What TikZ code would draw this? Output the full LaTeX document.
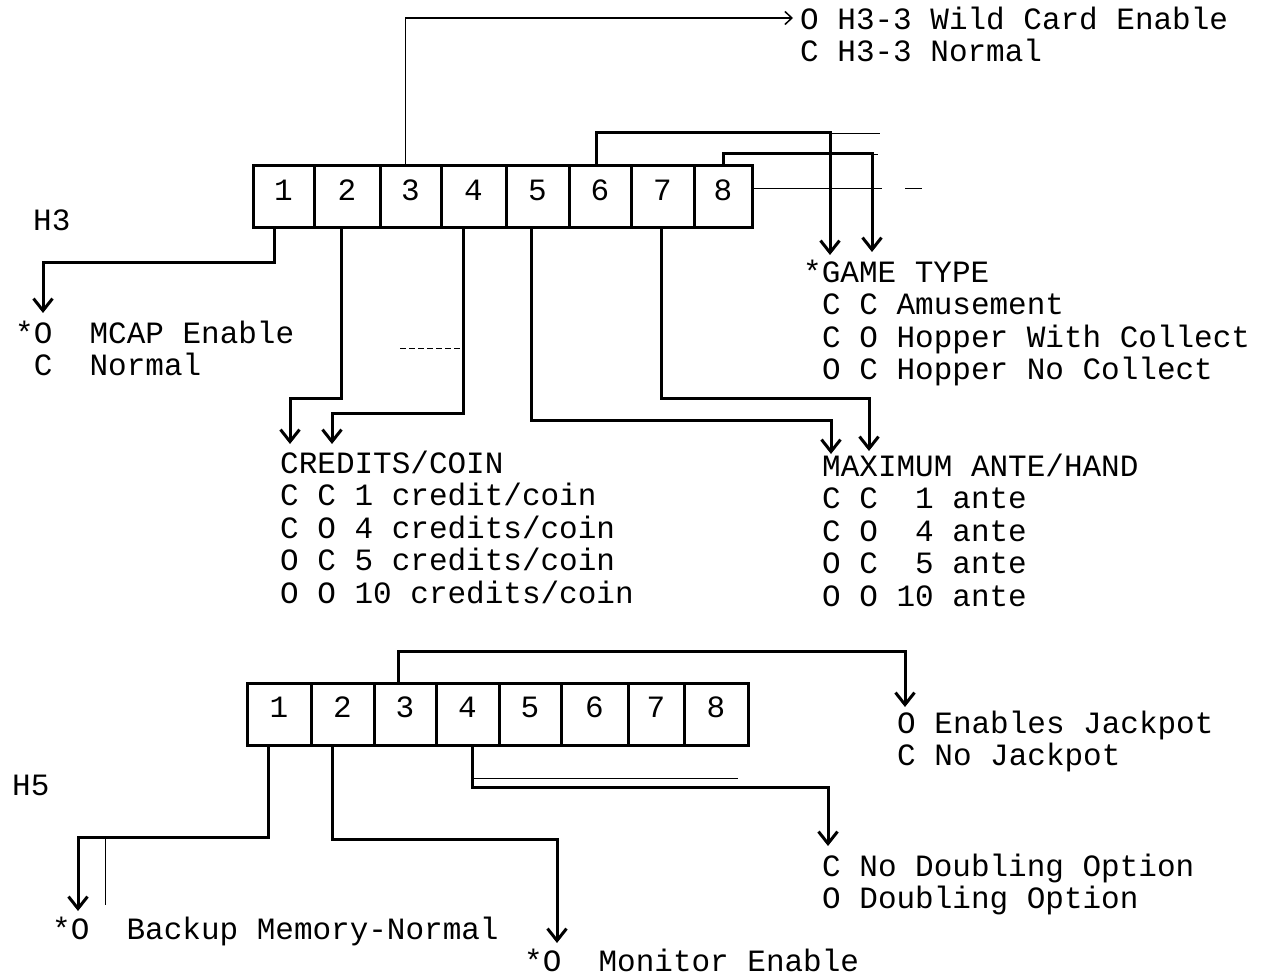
\documentclass[tikz,border=0pt]{standalone}
\usepackage{fontspec}
\setmainfont{Liberation Mono}
\usetikzlibrary{arrows.meta}
\begin{document}
\begin{tikzpicture}[x=1pt,y=-1pt,
  cell/.style={draw, line width=3pt, minimum height=62pt, inner sep=0pt, text depth=14pt, font=\fontsize{31}{31}\selectfont},
  txt/.style={anchor=base west, inner sep=0pt, font=\fontsize{31}{31}\selectfont},
  conn/.style={line width=3pt, -{Straight Barb[length=12pt,width=19pt]}},
  thinarrow/.style={line width=1.5pt, -{Straight Barb[length=7pt,width=13pt]}},
  thinln/.style={line width=1pt},
]
\useasboundingbox (0,0) rectangle (1270,976);

% ---------- H3 switch ----------
\node[cell, minimum width=61pt] (a1) at (283.5,197) {1};
\node[cell, minimum width=66pt] (a2) at (347,197) {2};
\node[cell, minimum width=61pt] (a3) at (410.5,197) {3};
\node[cell, minimum width=65pt] (a4) at (473.5,197) {4};
\node[cell, minimum width=63pt] (a5) at (537.5,197) {5};
\node[cell, minimum width=62pt] (a6) at (600,197) {6};
\node[cell, minimum width=63pt] (a7) at (662.5,197) {7};
\node[cell, minimum width=58pt] (a8) at (723,197) {8};

\node[txt] (h3) at (33,231) {H3};

% texts H3
\node[txt] (wc1) at (800,30) {O H3-3 Wild Card Enable};
\node[txt] (wc2) at (800,62) {C H3-3 Normal};
\node[txt] (mc1) at (15,344) {*O~~MCAP Enable};
\node[txt] (mc2) at (15,376) {~C~~Normal};
\node[txt] (gt0) at (803,283) {*GAME TYPE};
\node[txt] (gt1) at (822,315) {C C Amusement};
\node[txt] (gt2) at (822,348) {C O Hopper With Collect};
\node[txt] (gt3) at (822,380) {O C Hopper No Collect};
\node[txt] (cr0) at (280,473) {CREDITS/COIN};
\node[txt] (cr1) at (280,505) {C C 1 credit/coin};
\node[txt] (cr2) at (280,538) {C O 4 credits/coin};
\node[txt] (cr3) at (280,570) {O C 5 credits/coin};
\node[txt] (cr4) at (280,603) {O O 10 credits/coin};
\node[txt] (ma0) at (822,476) {MAXIMUM ANTE/HAND};
\node[txt] (ma1) at (822,508) {C C~~1 ante};
\node[txt] (ma2) at (822,541) {C O~~4 ante};
\node[txt] (ma3) at (822,573) {O C~~5 ante};
\node[txt] (ma4) at (822,606) {O O 10 ante};

% arrow tips H3
\coordinate (t3) at (793,18);
\coordinate (t6) at (830,255);
\coordinate (t8) at (872,252);
\coordinate (t1) at (43,313);
\coordinate (t2) at (290,444);
\coordinate (t4) at (332,444);
\coordinate (t5) at (831,454);
\coordinate (t7) at (869,451);

\draw[thinarrow] ([xshift=-5pt]a3.north) |- (t3);
\draw[conn] ([xshift=-4pt]a6.north) -- ++(0,-32) -| (t6);
\draw[conn] (a8.north) -- ++(0,-11) -| (t8);
\draw[conn] ([xshift=-9pt]a1.south) -- ++(0,33) -| (t1);
\draw[conn] ([xshift=-6pt]a2.south) -- ++(0,169) -| (t2);
\draw[conn] ([xshift=-10pt]a4.south) -- ++(0,184) -| (t4);
\draw[conn] ([xshift=-6pt]a5.south) -- ++(0,191) -| (t5);
\draw[conn] ([xshift=-1.5pt]a7.south) -- ++(0,169) -| (t7);

% stray thin lines H3
\draw[thinln] (830,134) -- (880,134);
\draw[thinln] (872,155) -- (878,155);
\draw[thinln] ([yshift=8pt]a8.east) -- ++(128,0);
\draw[thinln] (905,189) -- (922,189);
\draw[thinln, dash pattern=on 6pt off 3pt] (400,349) -- (463.5,349);

% ---------- H5 switch ----------
\node[cell, minimum width=64pt] (b1) at (279,714) {1};
\node[cell, minimum width=63pt] (b2) at (342.5,714) {2};
\node[cell, minimum width=62pt] (b3) at (405,714) {3};
\node[cell, minimum width=63pt] (b4) at (467.5,714) {4};
\node[cell, minimum width=62pt] (b5) at (530,714) {5};
\node[cell, minimum width=67pt] (b6) at (594.5,714) {6};
\node[cell, minimum width=56pt] (b7) at (656,714) {7};
\node[cell, minimum width=64pt] (b8) at (716,714) {8};

\node[txt] (h5) at (12,795) {H5};
\node[txt] (jp1) at (897,733) {O Enables Jackpot};
\node[txt] (jp2) at (897,765) {C No Jackpot};
\node[txt] (db1) at (822,876) {C No Doubling Option};
\node[txt] (db2) at (822,908) {O Doubling Option};
\node[txt] (bk) at (52,939) {*O~~Backup Memory-Normal};
\node[txt] (mo) at (524,971) {*O~~Monitor Enable};

\coordinate (u3) at (905,707);
\coordinate (u1) at (78,911);
\coordinate (u2) at (557,943);
\coordinate (u4) at (828,846);

\draw[conn] ([xshift=-7pt]b3.north) -- ++(0,-30) -| (u3);
\draw[conn] ([xshift=-11pt]b1.south) -- ++(0,91) -| (u1);
\draw[conn] ([xshift=-10pt]b2.south) -- ++(0,93) -| (u2);
\draw[conn] ([xshift=4.5pt]b4.south) -- ++(0,41) -| (u4);

\draw[thinln] (474,778) -- (738,778);
\draw[thinln] (105,837) -- (105,905);
\end{tikzpicture}
\end{document}
